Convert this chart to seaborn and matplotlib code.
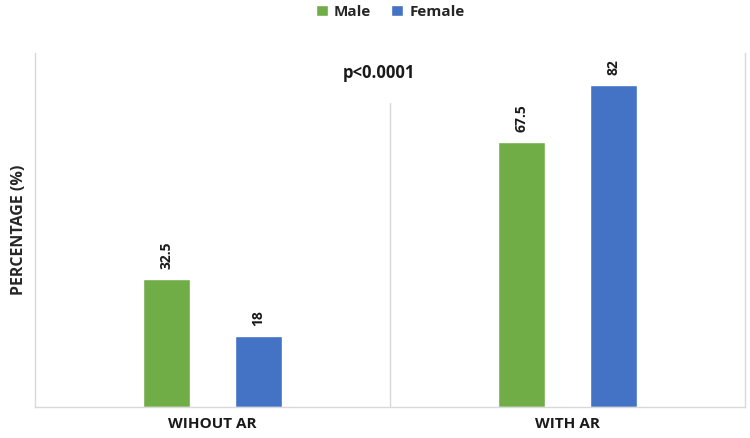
import pandas as pd
import matplotlib
matplotlib.use("Agg")
import matplotlib.pyplot as plt
import seaborn as sns

groups = ["WIHOUT AR", "WITH AR"]
sexes = ["Male", "Female"]
male_vals = [32.5, 67.5]
female_vals = [18, 82]
label_text = [["32.5", "67.5"], ["18", "82"]]
colors = {"Male": "#70AD47", "Female": "#4472C4"}

df = pd.DataFrame({
    "group": groups * 2,
    "sex": ["Male"] * 2 + ["Female"] * 2,
    "value": male_vals + female_vals,
})

sns.set_style("white")
plt.rcParams["font.family"] = ["Open Sans", "DejaVu Sans"]

fig = plt.figure(figsize=(7.5, 4.38), dpi=100)
ax = fig.add_axes([0.0467, 0.0708, 0.9467, 0.808])

sns.barplot(data=df, x="group", y="value", hue="sex", order=groups,
            hue_order=sexes, palette=colors, width=0.52, gap=0.485,
            saturation=1, ax=ax, legend=True)

for cont, labels in zip(ax.containers, label_text):
    ax.bar_label(cont, labels=labels, rotation=90, padding=7,
                 fontsize=10, fontweight="bold", color="#1a1a1a")

ax.set_xlim(-0.5, 1.5)
ax.set_ylim(0, 90)
ax.set_yticks([])
ax.set_xlabel("")
ax.set_ylabel("PERCENTAGE (%)", fontsize=11.5, fontweight="bold", labelpad=6)
ax.tick_params(axis="x", length=0, pad=7)
for t in ax.get_xticklabels():
    t.set_fontsize(11)
    t.set_fontweight("bold")
    t.set_color("#1a1a1a")

for side in ["left", "right", "bottom"]:
    ax.spines[side].set_color("#d9d9d9")
    ax.spines[side].set_linewidth(1)
ax.spines["top"].set_visible(False)

ax.axvline(0.5, ymin=0, ymax=77.3 / 90, color="#d9d9d9", lw=1)
ax.text(0.47, 85, "p<0.0001", ha="center", va="center",
        fontsize=12, fontweight="bold", color="#1a1a1a")

ax.legend(loc="center", bbox_to_anchor=(0.5, 1.117), ncol=2,
          frameon=False, handlelength=0.8, handleheight=0.8,
          columnspacing=1.3, handletextpad=0.4,
          prop={"size": 11, "weight": "bold"})

fig.savefig("out.png", dpi=100)
